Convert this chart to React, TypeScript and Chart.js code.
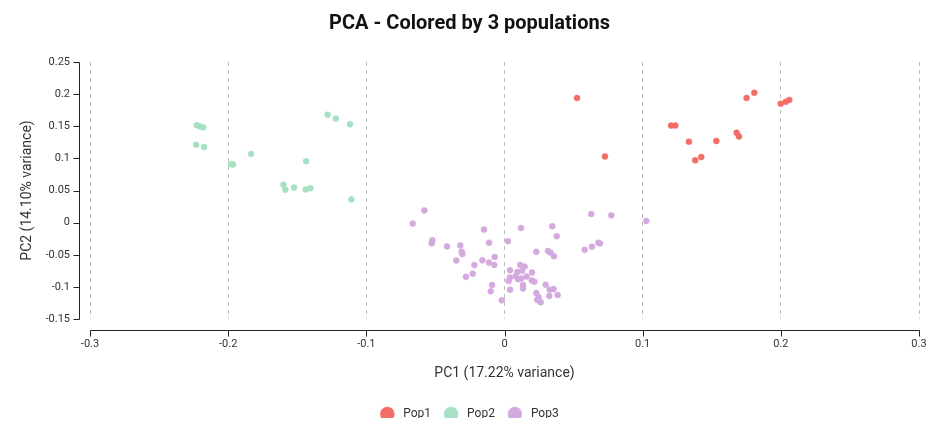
import React, { useEffect, useRef } from "react";
import { Chart, registerables } from "chart.js";

Chart.register(...registerables);

const pop1X = [0.0525, 0.0727, 0.1206, 0.1236, 0.1335, 0.138, 0.1424, 0.1533, 0.168, 0.1697, 0.1752, 0.1808, 0.1999, 0.2035, 0.2061];
const pop1Y = [0.194, 0.103, 0.151, 0.151, 0.126, 0.097, 0.102, 0.127, 0.14, 0.134, 0.194, 0.202, 0.185, 0.188, 0.191];

const pop2X = [-0.2227, -0.2203, -0.218, -0.2232, -0.2174, -0.1979, -0.1965, -0.1834, -0.1436, -0.128, -0.1221, -0.1118, -0.16, -0.1586, -0.1523, -0.1439, -0.1405, -0.1108];
const pop2Y = [0.1517, 0.1497, 0.148, 0.1214, 0.1178, 0.091, 0.0906, 0.107, 0.0957, 0.168, 0.162, 0.153, 0.059, 0.051, 0.0545, 0.0514, 0.0535, 0.036];

const pop3X = [
  -0.058, -0.0664, -0.0522, -0.0527, -0.0416, -0.032, -0.031, -0.0305, -0.0349, -0.0279,
  -0.023, -0.0218, -0.016, -0.0148, -0.0112, -0.0112, -0.0071, -0.0074, -0.009, -0.01,
  -0.002, 0.0025, 0.0119, 0.004, 0.004, 0.003, 0.004, 0.0093, 0.0114, 0.0146,
  0.0127, 0.0081, 0.0098, 0.0122, 0.016, 0.0199, 0.0197, 0.0216, 0.0134, 0.0134,
  0.023, 0.0315, 0.0334, 0.0358, 0.0346, 0.0378, 0.0298, 0.0327, 0.0356, 0.0324,
  0.0385, 0.023, 0.0247, 0.0237, 0.0262, 0.058, 0.0633, 0.0679, 0.0691, 0.0628,
  0.0773, 0.1026,
];
const pop3Y = [
  0.019, -0.0015, -0.0273, -0.032, -0.037, -0.0355, -0.0453, -0.049, -0.059, -0.0844,
  -0.0797, -0.0659, -0.0586, -0.0108, -0.0314, -0.0622, -0.0535, -0.0659, -0.0972, -0.107,
  -0.121, -0.0288, -0.0082, -0.074, -0.0854, -0.091, -0.1045, -0.0767, -0.0659, -0.0684,
  -0.075, -0.0833, -0.088, -0.087, -0.0838, -0.0777, -0.09, -0.092, -0.0972, -0.1024,
  -0.0453, -0.0443, -0.0468, -0.0525, -0.0057, -0.0211, -0.0967, -0.1045, -0.1034, -0.1142,
  -0.1127, -0.1096, -0.1162, -0.1204, -0.124, -0.0421, -0.0375, -0.0313, -0.0324, 0.0134,
  0.0113, 0.0026,
];

const popLabels = ["Pop1", "Pop2", "Pop3"];
const popColors = ["rgba(242,108,104,1)", "rgba(166,224,194,1)", "rgba(212,170,222,1)"];

const xTicks = [-0.3, -0.2, -0.1, 0, 0.1, 0.2, 0.3];
const yTicks = [-0.15, -0.1, -0.05, 0, 0.05, 0.1, 0.15, 0.2, 0.25];

const fmt = (v: number) => String(parseFloat(Number(v).toFixed(3)));

const toPoints = (xs: number[], ys: number[]) => xs.map((x, i) => ({ x, y: ys[i] }));

const axisPlugin = {
  id: "offsetAxes",
  afterDraw(chart: any) {
    const { ctx, chartArea, scales } = chart;
    const { left, bottom } = chartArea;
    const xs = scales.x;
    const ys = scales.y;
    ctx.save();
    ctx.strokeStyle = "#222";
    ctx.lineWidth = 1;
    ctx.setLineDash([]);
    ctx.beginPath();
    const ax = Math.round(left - 11) + 0.5;
    const yTop = Math.round(ys.getPixelForValue(yTicks[yTicks.length - 1])) + 0.5;
    const yBot = Math.round(ys.getPixelForValue(yTicks[0])) + 0.5;
    ctx.moveTo(ax, yTop);
    ctx.lineTo(ax, yBot);
    yTicks.forEach((v) => {
      const py = Math.round(ys.getPixelForValue(v)) + 0.5;
      ctx.moveTo(ax - 6, py);
      ctx.lineTo(ax, py);
    });
    const ay = Math.round(bottom + 11) + 0.5;
    const xL = Math.round(xs.getPixelForValue(xTicks[0])) + 0.5;
    const xR = Math.round(xs.getPixelForValue(xTicks[xTicks.length - 1])) + 0.5;
    ctx.moveTo(xL, ay);
    ctx.lineTo(xR, ay);
    xTicks.forEach((v) => {
      const px = Math.round(xs.getPixelForValue(v)) + 0.5;
      ctx.moveTo(px, ay);
      ctx.lineTo(px, ay + 6);
    });
    ctx.stroke();
    ctx.restore();
  },
};

const legendFitPlugin = {
  id: "legendFit",
  beforeInit(chart: any) {
    const legend = chart.legend;
    if (!legend) return;
    const orig = legend.fit;
    legend.fit = function () {
      orig.call(this);
      this.height = 31;
    };
  },
};

export default function App() {
  const ref = useRef<HTMLCanvasElement>(null);
  useEffect(() => {
    if (!ref.current) return;
    const font = "Roboto, 'Noto Sans', sans-serif";
    const chart = new Chart(ref.current, {
      type: "scatter",
      data: {
        datasets: [
          { label: popLabels[0], data: toPoints(pop1X, pop1Y) },
          { label: popLabels[1], data: toPoints(pop2X, pop2Y) },
          { label: popLabels[2], data: toPoints(pop3X, pop3Y) },
        ].map((d, i) => ({
          ...d,
          backgroundColor: popColors[i],
          borderColor: popColors[i],
          borderWidth: 0.5,
          pointRadius: 3,
          pointHoverRadius: 3,
        })),
      },
      options: {
        animation: false,
        responsive: true,
        maintainAspectRatio: false,
        layout: { padding: 0 },
        plugins: {
          title: {
            display: true,
            text: "PCA - Colored by 3 populations",
            color: "#111",
            font: { family: font, size: 20, weight: "bold" },
            padding: { top: 4, bottom: 26 },
          },
          legend: {
            position: "bottom",
            labels: {
              usePointStyle: true,
              pointStyle: "circle",
              boxHeight: 10,
              pointStyleWidth: 14,
              padding: 13,
              color: "#333",
              font: { family: font, size: 12 },
              generateLabels: (chart: any) =>
                Chart.defaults.plugins.legend.labels.generateLabels(chart).map((l: any) => ({
                  ...l,
                  text: " " + l.text,
                })),
            },
          },
          tooltip: { enabled: false },
        },
        scales: {
          x: {
            type: "linear",
            min: -0.3,
            max: 0.3,
            afterBuildTicks: (s: any) => {
              s.ticks = xTicks.map((v) => ({ value: v }));
            },
            afterFit: (s: any) => {
              s.height = 76;
              s.paddingRight = 12;
              s.paddingLeft = 0;
            },
            ticks: {
              color: "#333",
              font: { family: font, size: 11 },
              padding: 19,
              callback: (v: any) => fmt(v),
              maxRotation: 0,
            },
            grid: {
              display: true,
              color: "#bdbdbd",
              drawTicks: false,
              lineWidth: 1,
            },
            border: { display: false, dash: [4, 4] },
            title: {
              display: true,
              text: "PC1 (17.22% variance)",
              color: "#333",
              font: { family: font, size: 14 },
              padding: { top: 10, bottom: 13 },
            },
          },
          y: {
            type: "linear",
            min: -0.15,
            max: 0.25,
            afterBuildTicks: (s: any) => {
              s.ticks = yTicks.map((v) => ({ value: v }));
            },
            afterFit: (s: any) => {
              s.width = 82;
            },
            ticks: {
              color: "#333",
              font: { family: font, size: 11 },
              padding: 20,
              callback: (v: any) => fmt(v),
            },
            grid: { display: false, drawTicks: false },
            border: { display: false },
            title: {
              display: true,
              text: "PC2 (14.10% variance)",
              color: "#333",
              font: { family: font, size: 14 },
              padding: { top: 11, bottom: 8 },
            },
          },
        },
      },
      plugins: [axisPlugin, legendFitPlugin],
    } as any);
    return () => chart.destroy();
  }, []);
  return (
    <div style={{ width: "100%", height: 418, marginBottom: -8, position: "relative" }}>
      <canvas ref={ref} />
    </div>
  );
}
